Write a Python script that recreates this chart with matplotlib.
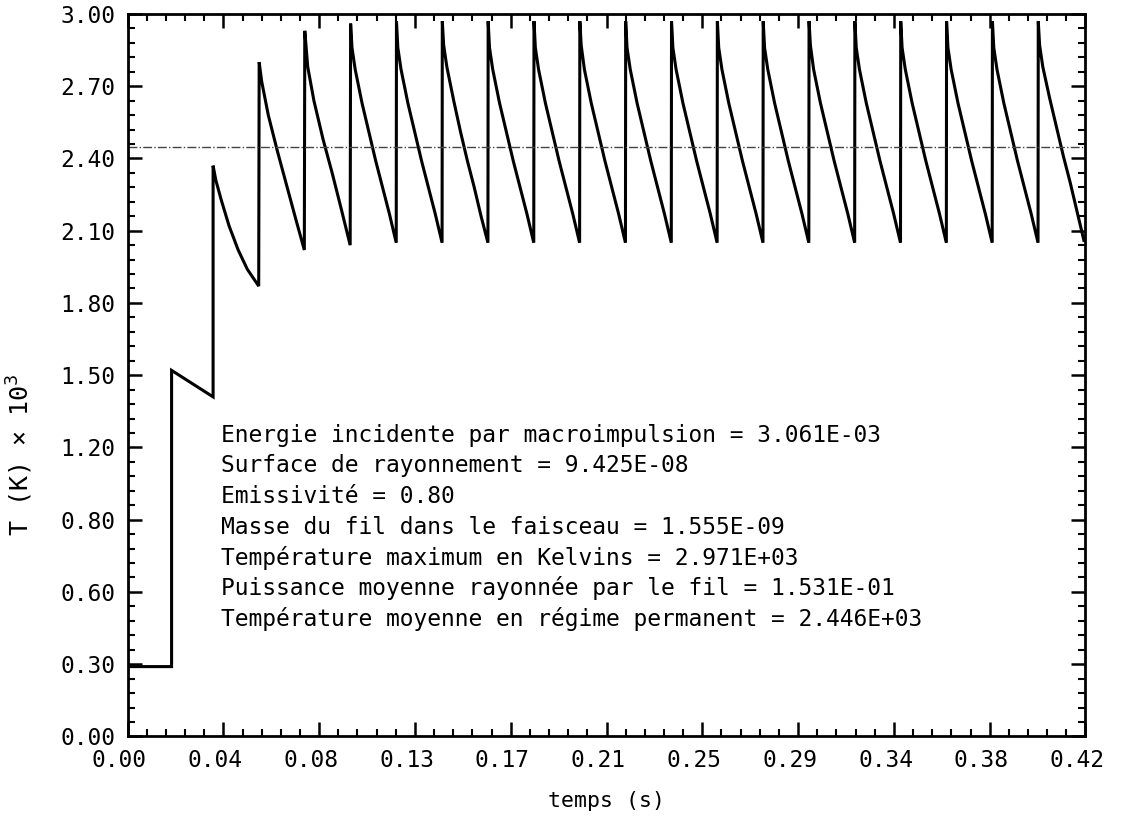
import numpy as np
import matplotlib.pyplot as plt
from matplotlib.ticker import MultipleLocator
from matplotlib.transforms import ScaledTranslation

# --- data ---
# wire temperature (K x 1e3) versus time (s), one macro-pulse every ~20 ms

pre_t = [0.0, 0.0193]
pre_T = [0.29, 0.29]

pulse_t = [0.0193, 0.0375, 0.0577, 0.0777, 0.0978, 0.1179, 0.1380, 0.1581,
           0.1782, 0.1983, 0.2184, 0.2385, 0.2586, 0.2787, 0.2988, 0.3189,
           0.3390, 0.3591, 0.3792, 0.3993]

# first pulses (warm-up), time offsets after the pulse and temperatures
early_dt = [
    [0.0, 0.0182],
    [0.0, 0.0012, 0.0035, 0.0070, 0.0110, 0.0150, 0.0200],
    [0.0, 0.0011, 0.0040, 0.0080, 0.0120, 0.0160, 0.0198],
    [0.0, 0.0013, 0.0040, 0.0080, 0.0120, 0.0160, 0.0199],
]
early_T = [
    [1.52, 1.41],
    [2.37, 2.31, 2.23, 2.12, 2.02, 1.94, 1.87],
    [2.80, 2.72, 2.58, 2.43, 2.29, 2.15, 2.02],
    [2.93, 2.78, 2.64, 2.48, 2.34, 2.19, 2.04],
]

# steady regime
steady_dt = [0.0, 0.0006, 0.0020, 0.0050, 0.0080, 0.0110, 0.0140, 0.0170, 0.0200]
steady_T = [
    [2.96, 2.86, 2.77, 2.63, 2.51, 2.39, 2.28, 2.17, 2.05],
    [2.97, 2.86, 2.77, 2.63, 2.51, 2.39, 2.28, 2.17, 2.05],
    [2.97, 2.87, 2.78, 2.64, 2.51, 2.39, 2.28, 2.16, 2.05],
    [2.97, 2.86, 2.77, 2.63, 2.51, 2.39, 2.28, 2.17, 2.05],
    [2.97, 2.86, 2.77, 2.63, 2.51, 2.39, 2.28, 2.17, 2.05],
    [2.97, 2.87, 2.77, 2.63, 2.51, 2.39, 2.28, 2.17, 2.05],
    [2.97, 2.86, 2.77, 2.63, 2.51, 2.39, 2.28, 2.17, 2.05],
    [2.97, 2.86, 2.77, 2.63, 2.51, 2.39, 2.28, 2.17, 2.05],
    [2.97, 2.86, 2.77, 2.63, 2.51, 2.39, 2.28, 2.17, 2.05],
    [2.97, 2.86, 2.77, 2.63, 2.51, 2.39, 2.28, 2.17, 2.05],
    [2.97, 2.87, 2.77, 2.63, 2.51, 2.39, 2.28, 2.17, 2.05],
    [2.97, 2.86, 2.77, 2.63, 2.51, 2.39, 2.28, 2.17, 2.05],
    [2.97, 2.86, 2.77, 2.63, 2.51, 2.39, 2.28, 2.17, 2.05],
    [2.97, 2.86, 2.77, 2.63, 2.51, 2.39, 2.28, 2.17, 2.05],
    [2.97, 2.86, 2.77, 2.63, 2.51, 2.39, 2.28, 2.17, 2.05],
    [2.97, 2.87, 2.78, 2.65, 2.53, 2.41, 2.30, 2.18, 2.06],
]

mean_T = 2.446

xtick_labels = ["0.00", "0.04", "0.08", "0.13", "0.17", "0.21",
                "0.25", "0.29", "0.34", "0.38", "0.42"]
ytick_labels = ["0.00", "0.30", "0.60", "0.80", "1.20", "1.50",
                "1.80", "2.10", "2.40", "2.70", "3.00"]

info_lines = [
    "Energie incidente par macroimpulsion = 3.061E-03",
    "Surface de rayonnement = 9.425E-08",
    "Emissivité = 0.80",
    "Masse du fil dans le faisceau = 1.555E-09",
    "Température maximum en Kelvins = 2.971E+03",
    "Puissance moyenne rayonnée par le fil = 1.531E-01",
    "Température moyenne en régime permanent = 2.446E+03",
]

# build the full trace
t_all = list(pre_t)
T_all = list(pre_T)
for i in range(len(early_dt)):
    t_all += [pulse_t[i] + d for d in early_dt[i]]
    T_all += early_T[i]
for k, row in enumerate(steady_T):
    p = pulse_t[len(early_dt) + k]
    t_all += [p + d for d in steady_dt]
    T_all += row

plt.rcParams['font.family'] = ['DejaVu Sans Mono']

fig = plt.figure(figsize=(11.39, 8.21), dpi=100)
ax = fig.add_axes([0.112, 0.103, 0.841, 0.880])

ax.plot(t_all, T_all, color='black', lw=2.2, solid_joinstyle='miter')
ax.axhline(mean_T, color='#444444', lw=1.0, ls='-.')

ax.set_xlim(0, 0.42)
ax.set_ylim(0, 3.0)

ax.set_xticks([i * 0.042 for i in range(11)])
ax.set_xticklabels(xtick_labels)
ax.set_yticks([i * 0.3 for i in range(11)])
ax.set_yticklabels(ytick_labels)
ax.xaxis.set_minor_locator(MultipleLocator(0.0084))
ax.yaxis.set_minor_locator(MultipleLocator(0.06))

ax.tick_params(which='both', direction='in', top=True, right=True,
               labelsize=16.5, color='black')
ax.tick_params(which='major', length=10, width=1.8, pad=9)
ax.tick_params(which='minor', length=5, width=1.5)
for s in ax.spines.values():
    s.set_linewidth(2)

# the scanned x labels sit a little left of their ticks
shift = ScaledTranslation(-6 / 72, 0, fig.dpi_scale_trans)
for lab in ax.get_xticklabels():
    lab.set_transform(lab.get_transform() + shift)

ax.set_xlabel("temps (s)", fontsize=15.5, labelpad=14)
ax.set_ylabel("T (K) × 10$^3$", fontsize=18)
ax.yaxis.set_label_coords(-0.097, 0.39)

for i, line in enumerate(info_lines):
    ax.text(0.041, 1.25 - i * 0.127, line, fontsize=16.5, va='center', ha='left')

fig.savefig("out.png", dpi=100)
